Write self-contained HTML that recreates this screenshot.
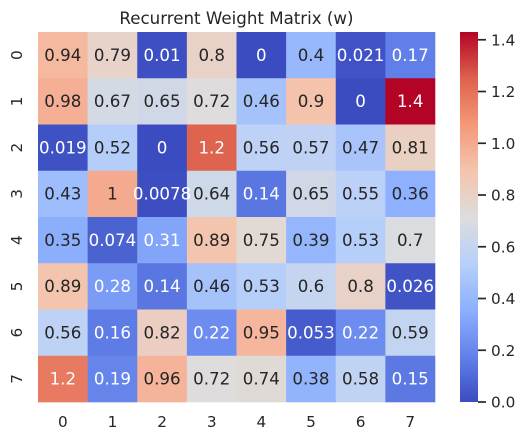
<!DOCTYPE html>
<html>
<head>
<meta charset="utf-8">
<style>
html,body{margin:0;padding:0;background:#fff;width:525px;height:440px;overflow:hidden}
svg{display:block}
text{font-family:"DejaVu Sans","Liberation Sans",sans-serif;fill:#262626}
</style>
</head>
<body>
<svg id="chart" xmlns="http://www.w3.org/2000/svg" width="525" height="440" viewBox="0 0 525 440">
<rect x="0" y="0" width="525" height="440" fill="#ffffff"/>
<text x="236.5" y="24" font-size="16.67" text-anchor="middle">Recurrent Weight Matrix (w)</text>
<defs><linearGradient id="cbar-gradient" x1="0" y1="1" x2="0" y2="0"></linearGradient></defs>
<g id="cells"></g>
<g id="xticks"></g>
<g id="yticks"></g>
<rect id="cbar" x="460" y="32" width="18" height="370" fill="url(#cbar-gradient)"/>
<g id="cticks"></g>
</svg>
<script>
const xCategories = ['0','1','2','3','4','5','6','7'];
const yCategories = ['0','1','2','3','4','5','6','7'];
const row0 = [0.94, 0.79, 0.01, 0.80, 0, 0.40, 0.021, 0.17];
const row1 = [0.98, 0.67, 0.65, 0.72, 0.46, 0.90, 0, 1.43];
const row2 = [0.019, 0.52, 0, 1.24, 0.56, 0.57, 0.47, 0.81];
const row3 = [0.43, 1.0, 0.0078, 0.64, 0.14, 0.65, 0.55, 0.36];
const row4 = [0.35, 0.074, 0.31, 0.89, 0.75, 0.39, 0.53, 0.70];
const row5 = [0.89, 0.28, 0.14, 0.46, 0.53, 0.60, 0.80, 0.026];
const row6 = [0.56, 0.16, 0.82, 0.22, 0.95, 0.053, 0.22, 0.59];
const row7 = [1.17, 0.19, 0.96, 0.72, 0.74, 0.38, 0.58, 0.15];
const colorbarTicks = [0, 0.2, 0.4, 0.6, 0.8, 1.0, 1.2, 1.4];

const matrix = [row0, row1, row2, row3, row4, row5, row6, row7];
const NS = 'http://www.w3.org/2000/svg';
const plot = {left: 38, right: 435, top: 32, bottom: 402};
const cmapStops = [[59,76,192],[98,130,234],[141,176,254],[184,208,249],[221,221,221],[245,196,173],[244,152,122],[222,97,77],[180,4,38]];

const all = matrix.flat();
const vmin = Math.min(...all);
const vmax = Math.max(...all);

function xScale(i) { return plot.left + i * (plot.right - plot.left) / xCategories.length; }
function yScale(i) { return plot.top + i * (plot.bottom - plot.top) / yCategories.length; }
function cScale(v) { return plot.bottom - (v - vmin) / (vmax - vmin) * (plot.bottom - plot.top); }
function cmap(t) {
  t = Math.max(0, Math.min(1, t));
  const p = t * (cmapStops.length - 1);
  const i = Math.min(Math.floor(p), cmapStops.length - 2);
  const f = p - i;
  return cmapStops[i].map((c, k) => Math.round(c + (cmapStops[i + 1][k] - c) * f));
}
function luminance(rgb) {
  const l = rgb.map(c => { c /= 255; return c <= 0.03928 ? c / 12.92 : Math.pow((c + 0.055) / 1.055, 2.4); });
  return 0.2126 * l[0] + 0.7152 * l[1] + 0.0722 * l[2];
}
function fmt(v) { return String(Number(v.toPrecision(2))); }
function make(tag, attrs, parent) {
  const el = document.createElementNS(NS, tag);
  for (const k in attrs) el.setAttribute(k, attrs[k]);
  parent.appendChild(el);
  return el;
}

const cellsG = document.getElementById('cells');
const cw = xScale(1) - xScale(0);
const ch = yScale(1) - yScale(0);
matrix.forEach((row, r) => {
  row.forEach((v, c) => {
    const rgb = cmap((v - vmin) / (vmax - vmin));
    const rect = make('rect', {x: xScale(c), y: yScale(r), width: cw + 0.3, height: ch + 0.3, fill: 'rgb(' + rgb.join(',') + ')'}, cellsG);
    
    
  });
});
matrix.forEach((row, r) => {
  row.forEach((v, c) => {
    const rgb = cmap((v - vmin) / (vmax - vmin));
    const label = make('text', {x: xScale(c) + cw / 2, y: yScale(r) + ch / 2 + 5.7, 'font-size': 16.67, 'text-anchor': 'middle'}, cellsG);
    
    
    label.style.fill = luminance(rgb) < 0.408 ? '#ffffff' : '#262626';
    label.textContent = fmt(v);
  });
});

const xG = document.getElementById('xticks');
xCategories.forEach((name, i) => {
  const t = make('text', {x: xScale(i) + cw / 2, y: 427, 'font-size': 15.28, 'text-anchor': 'middle'}, xG);
  
  
  t.textContent = name;
});

const yG = document.getElementById('yticks');
yCategories.forEach((name, i) => {
  const cy = yScale(i) + ch / 2;
  const t = make('text', {x: 0, y: 0, transform: 'translate(22 ' + cy + ') rotate(-90)', 'font-size': 15.28, 'text-anchor': 'middle'}, yG);
  
  
  t.textContent = name;
});

const grad = document.getElementById('cbar-gradient');
cmapStops.forEach((rgb, i) => {
  make('stop', {offset: i / (cmapStops.length - 1), 'stop-color': 'rgb(' + rgb.join(',') + ')'}, grad);
});

const cG = document.getElementById('cticks');
colorbarTicks.forEach(v => {
  const y = cScale(v);
  const line = make('line', {x1: 478, x2: 486, y1: y, y2: y, stroke: '#262626', 'stroke-width': 1.7}, cG);
  
  
  const t = make('text', {x: 491, y: y + 5.5, 'font-size': 15.28}, cG);
  
  
  t.textContent = v.toFixed(1);
});
</script>
</body>
</html>
